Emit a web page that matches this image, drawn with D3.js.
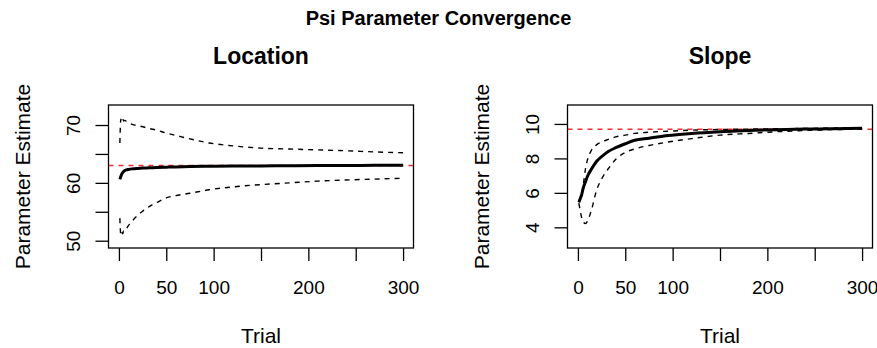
<!DOCTYPE html>
<html>
<head>
<meta charset="utf-8">
<script src="https://cdn.jsdelivr.net/npm/d3@7"></script>
<style>
  body { margin: 0; background: #fff; }
  text { font-family: "Liberation Sans", Arial, Helvetica, sans-serif; fill: #000; }
</style>
</head>
<body>
<svg id="chart" width="877" height="348"></svg>
<script>
// Trials at which the running posterior summaries are recorded
const trials = [1, 2, 3, 4, 5, 6, 8, 10, 14, 20, 25, 32, 40, 50, 60, 75, 95, 120, 150, 180, 210, 240, 270, 300];

// Location parameter: posterior mean and credible bounds
const locationMean  = [60.6, 61.1, 61.5, 61.75, 61.95, 62.1, 62.25, 62.32, 62.42, 62.5, 62.55, 62.6, 62.67, 62.72, 62.76, 62.81, 62.86, 62.9, 62.93, 62.96, 62.99, 63.01, 63.03, 63.05];
const locationUpper = [66.9, 71.0, 70.6, 71.1, 70.7, 70.8, 70.6, 70.4, 70.1, 69.9, 69.7, 69.4, 69.1, 68.6, 68.2, 67.6, 66.9, 66.4, 66.0, 65.85, 65.7, 65.55, 65.35, 65.2];
const locationLower = [53.9, 51.0, 51.5, 51.2, 51.7, 51.6, 52.1, 52.6, 53.4, 54.4, 55.1, 55.9, 56.6, 57.4, 57.8, 58.2, 58.8, 59.3, 59.7, 60.0, 60.3, 60.5, 60.65, 60.8];
const locationTrue  = 63.0;

// Slope parameter: posterior mean and credible bounds
const slopeMean  = [5.45, 5.6, 5.75, 5.9, 6.15, 6.35, 6.65, 6.95, 7.35, 7.85, 8.1, 8.4, 8.62, 8.85, 9.05, 9.17, 9.33, 9.45, 9.55, 9.62, 9.67, 9.7, 9.72, 9.75];
const slopeUpper = [5.45, 5.55, 5.75, 5.95, 6.2, 6.6, 7.4, 7.9, 8.45, 8.8, 8.95, 9.1, 9.25, 9.35, 9.45, 9.52, 9.58, 9.64, 9.68, 9.7, 9.72, 9.74, 9.76, 9.78];
const slopeLower = [5.4, 5.1, 4.8, 4.55, 4.4, 4.28, 4.22, 4.35, 4.95, 6.2, 6.8, 7.4, 7.95, 8.35, 8.55, 8.75, 8.95, 9.15, 9.35, 9.45, 9.55, 9.62, 9.67, 9.7];
const slopeTrue  = 9.69;

// Axis ticks and their labels (blank labels are ticks without text)
const xTicks = [0, 50, 100, 150, 200, 250, 300];
const xTickLabels = ["0", "50", "100", "", "200", "", "300"];
const locationTicks = [50, 55, 60, 65, 70];
const locationTickLabels = ["50", "", "60", "", "70"];
const slopeTicks = [4, 6, 8, 10];
const slopeTickLabels = ["4", "6", "8", "10"];

const svg = d3.select("#chart");
const TICK_FONT = 19, LAB_FONT = 21;

svg.append("text")
  .attr("x", 438.5).attr("y", 25)
  .attr("text-anchor", "middle")
  .style("font-size", "20px").style("font-weight", "bold")
  .text("Psi Parameter Convergence");

function panel(opts) {
  const { left, right, top, bottom, yDomain, title, mean, upper, lower, truth,
          yTicks, yTickLabels } = opts;
  const x = d3.scaleLinear().domain([-11, 311]).range([left, right]);
  const y = d3.scaleLinear().domain(yDomain).range([bottom, top]);
  const g = svg.append("g");

  const line = vals => d3.line()
    .x((d, i) => x(trials[i]))
    .y(d => y(d))
    .curve(d3.curveMonotoneX)(vals);

  // reference value
  g.append("line")
    .attr("x1", left).attr("x2", right)
    .attr("y1", y(truth)).attr("y2", y(truth))
    .attr("stroke", "#ee3030").attr("stroke-width", 1.6)
    .attr("stroke-dasharray", "5,5");

  // credible bounds
  [upper, lower].forEach(vals => {
    g.append("path").attr("d", line(vals))
      .attr("fill", "none").attr("stroke", "#000")
      .attr("stroke-width", 1.4).attr("stroke-dasharray", "5,5");
  });

  // posterior mean
  g.append("path").attr("d", line(mean))
    .attr("fill", "none").attr("stroke", "#000")
    .attr("stroke-width", 3).attr("stroke-linejoin", "round");

  // plot frame
  g.append("rect")
    .attr("x", left).attr("y", top)
    .attr("width", right - left).attr("height", bottom - top)
    .attr("fill", "none").attr("stroke", "#000").attr("stroke-width", 1.3);

  // x axis
  const xa = g.append("g").attr("transform", `translate(0,${bottom})`)
    .call(d3.axisBottom(x).tickValues(xTicks).tickSize(13).tickPadding(20)
      .tickFormat((d, i) => xTickLabels[i]));
  xa.select(".domain").remove();
  xa.selectAll("line").attr("stroke", "#000").attr("stroke-width", 1.3);
  xa.selectAll("text").style("font-size", TICK_FONT + "px")
    .style("font-family", '"Liberation Sans", Arial, sans-serif').attr("fill", "#000");

  // y axis with labels parallel to the axis
  const ya = g.append("g").attr("transform", `translate(${left},0)`)
    .call(d3.axisLeft(y).tickValues(yTicks).tickSize(13)
      .tickFormat((d, i) => yTickLabels[i]));
  ya.select(".domain").remove();
  ya.selectAll("line").attr("stroke", "#000").attr("stroke-width", 1.3);
  ya.selectAll("text")
    .attr("x", 0).attr("y", -28.5).attr("dy", 0)
    .attr("transform", "rotate(-90)")
    .attr("text-anchor", "middle")
    .style("font-size", TICK_FONT + "px")
    .style("font-family", '"Liberation Sans", Arial, sans-serif').attr("fill", "#000");

  const cx = (left + right) / 2, cy = (top + bottom) / 2;
  g.append("text").attr("x", cx).attr("y", 64).attr("text-anchor", "middle")
    .style("font-size", "23px").style("font-weight", "bold").text(title);
  g.append("text").attr("x", cx).attr("y", 343).attr("text-anchor", "middle")
    .style("font-size", LAB_FONT + "px").text("Trial");
  g.append("text")
    .attr("transform", `translate(${left - 78.5},${cy}) rotate(-90)`)
    .attr("text-anchor", "middle")
    .style("font-size", LAB_FONT + "px").text("Parameter Estimate");
}

panel({
  left: 108.5, right: 413.5, top: 105, bottom: 248,
  yDomain: [48.74, 73.46], title: "Location",
  mean: locationMean, upper: locationUpper, lower: locationLower, truth: locationTrue,
  yTicks: locationTicks, yTickLabels: locationTickLabels
});

panel({
  left: 567.5, right: 872.5, top: 105, bottom: 248,
  yDomain: [2.8, 11.1], title: "Slope",
  mean: slopeMean, upper: slopeUpper, lower: slopeLower, truth: slopeTrue,
  yTicks: slopeTicks, yTickLabels: slopeTickLabels
});
</script>
</body>
</html>
